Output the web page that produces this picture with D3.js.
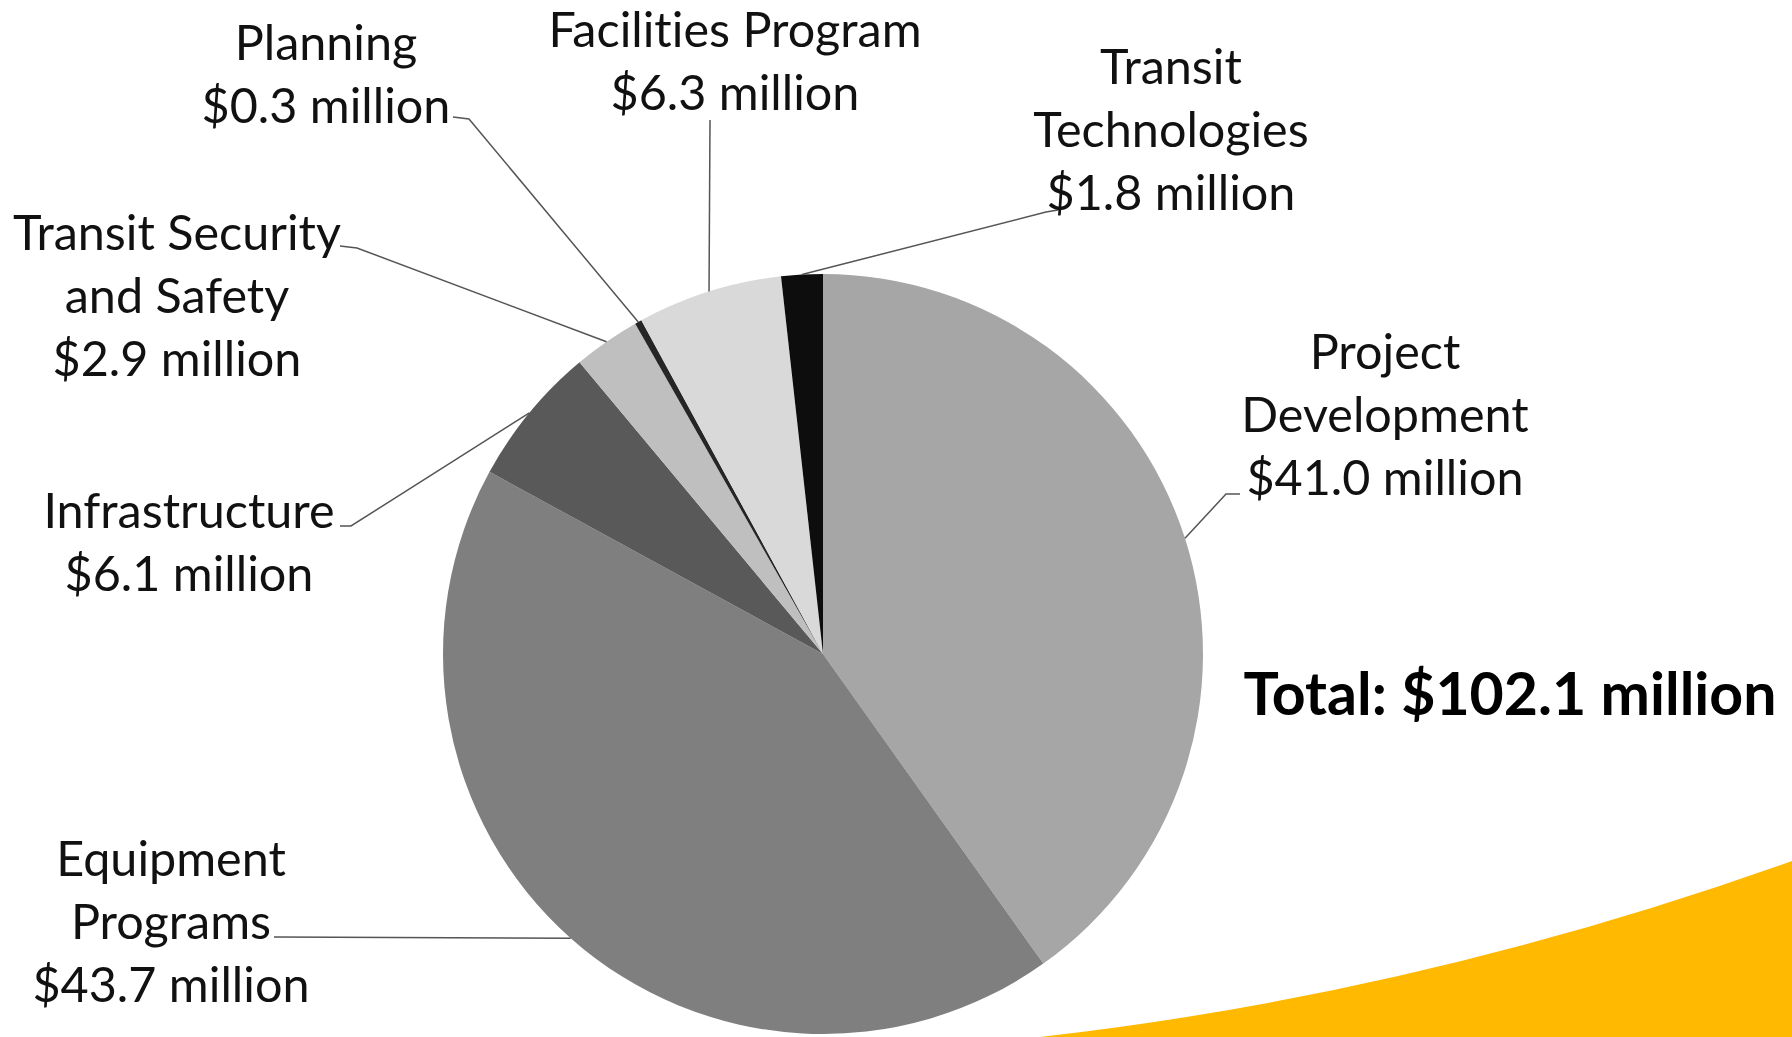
<!DOCTYPE html>
<html lang="en">
  <head>
    <meta charset="UTF-8" />
    <title>Transit program funding</title>
    <script src="https://d3js.org/d3.v7.min.js"></script>
    <style>
      body {
        margin: 0;
        background: #fff;
      }
      .label text {
        font-family: Lato, "Open Sans", sans-serif;
        font-size: 48.5px;
        font-variant-ligatures: none;
        fill: #111;
        text-anchor: middle;
      }
      .leader {
        fill: none;
        stroke: #555;
        stroke-width: 1.5px;
      }
      .total {
        font-family: Lato, "Open Sans", sans-serif;
        font-weight: 700;
        font-size: 59px;
        fill: #000;
        text-anchor: middle;
      }
    </style>
  </head>
  <body>
    <svg width="1792" height="1037"></svg>

    <script>
      // slice data, clockwise from 12 o'clock
      const categories = [
        "Project Development",
        "Equipment Programs",
        "Infrastructure",
        "Transit Security and Safety",
        "Planning",
        "Facilities Program",
        "Transit Technologies",
      ];
      const values = [41.0, 43.7, 6.1, 2.9, 0.3, 6.3, 1.8];
      const labelLines = [
        ["Project", "Development"],
        ["Equipment", "Programs"],
        ["Infrastructure"],
        ["Transit Security", "and Safety"],
        ["Planning"],
        ["Facilities Program"],
        ["Transit", "Technologies"],
      ];
      const totalLabel = "Total: $102.1 million";

      const colors = ["#a6a6a6", "#7f7f7f", "#595959", "#bfbfbf", "#262626", "#d9d9d9", "#0d0d0d"];

      // label block: centre x, first line y, leader elbow and end
      const labelLayout = [
        { x: 1385, y: 352, elbow: [1226, 494], end: [1240, 494] },
        { x: 171, y: 859, elbow: [276, 937], end: [274, 937] },
        { x: 189, y: 511, elbow: [351, 526], end: [340, 526] },
        { x: 177, y: 233, elbow: [357, 248], end: [340, 246] },
        { x: 326, y: 43, elbow: [469, 119], end: [453, 117] },
        { x: 735, y: 30, elbow: [710, 120], end: [710, 120] },
        { x: 1171, y: 67, elbow: [1046, 212], end: [1058, 210] },
      ];

      const svg = d3.select("svg");
      const cx = 823,
        cy = 654,
        r = 380,
        lineH = 63;

      // yellow swoosh bottom right
      svg
        .append("path")
        .attr("d", "M1040,1037 Q1420,994 1792,861 L1792,1037 Z")
        .attr("fill", "#ffb900");

      const pie = d3.pie().sort(null).value((d) => d);
      const arcs = pie(values);
      const arc = d3.arc().innerRadius(0).outerRadius(r);

      const g = svg.append("g").attr("transform", `translate(${cx},${cy})`);
      g.selectAll("path")
        .data(arcs)
        .join("path")
        .attr("d", arc)
        .attr("fill", (d, i) => colors[i]);

      // leader lines from slice middle on the rim
      svg
        .selectAll(".leader")
        .data(arcs)
        .join("polyline")
        .attr("class", "leader")
        .attr("points", (d, i) => {
          const a = (d.startAngle + d.endAngle) / 2;
          const p = [cx + r * Math.sin(a), cy - r * Math.cos(a)];
          const L = labelLayout[i];
          return [p, L.elbow, L.end].map((q) => q.join(",")).join(" ");
        });

      // labels
      const lbl = svg
        .selectAll(".label")
        .data(arcs)
        .join("g")
        .attr("class", "label");

      lbl.each(function (d, i) {
        const L = labelLayout[i];
        const lines = labelLines[i].concat([`$${values[i].toFixed(1)} million`]);
        d3.select(this)
          .selectAll("text")
          .data(lines)
          .join("text")
          .attr("x", L.x)
          .attr("y", (t, j) => L.y + j * lineH)
          .attr("dy", "0.35em")
          .text((t) => t);
      });

      svg
        .append("text")
        .attr("class", "total")
        .attr("x", 1510)
        .attr("y", 694)
        .attr("dy", "0.35em")
        .text(totalLabel);
    </script>
  </body>
</html>
